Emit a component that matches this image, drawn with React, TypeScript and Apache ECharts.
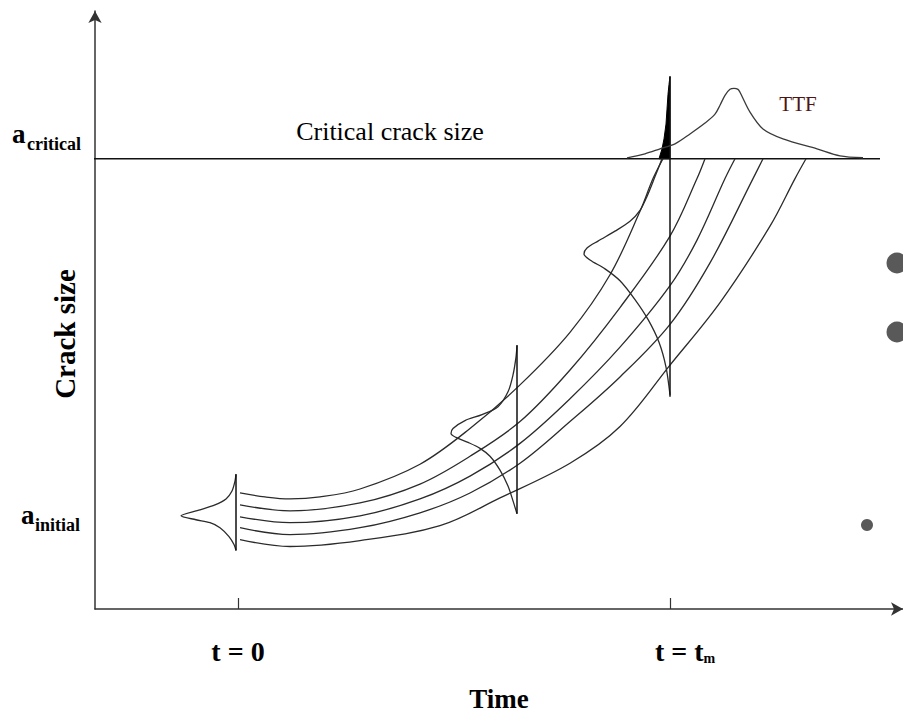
import React, { useEffect, useRef } from "react";
import * as echarts from "echarts";

// Time axis: t = 0 at 0, t = t_m at T_M (arbitrary time units)
// Crack-size axis: arbitrary size units
const T_ZERO = 0;
const T_M = 432;
const A_CRITICAL = 454;

const timeTicks = [T_ZERO, T_M];
const timeTickLabels = ["t = 0", "t = t_m"];

// five crack growth paths [time, crack size]
const crack1 = [[2,117],[27,113],[52,111],[82,113],[122,121],[182,146],[232,182],[282,226],[332,279],[372,337],[402,401],[415,434],[425,454]];
const crack2 = [[2,105],[52,99],[122,107],[182,126],[232,154],[282,189],[332,241],[382,304],[432,376],[459,434],[467,454]];
const crack3 = [[2,93],[52,87],[122,94],[182,111],[232,134],[282,167],[332,212],[382,264],[432,326],[459,372],[487,434],[497,454]];
const crack4 = [[2,82],[52,75],[122,82],[182,97],[232,117],[282,147],[332,189],[382,234],[432,287],[472,349],[515,434],[525,454]];
const crack5 = [[2,70],[52,63],[122,69],[202,84],[262,112],[332,147],[382,184],[432,246],[482,309],[532,386],[557,434],[568,454]];

// crack size distributions (drawn sideways) at three inspection times
const pdfInitial = [[-2,136],[-3,129],[-6,119],[-12,111],[-23,105],[-38,100],[-57,94],[-42,90],[-28,87],[-18,82],[-9,73],[-4,65],[-2,59]];
const pdfInitialBase = [[-2,136],[-2,59]];
const pdfMiddle = [[279,266],[278,254],[275,236],[270,219],[260,204],[244,196],[227,190],[215,182],[213,177],[218,173],[230,168],[242,162],[252,154],[262,140],[270,124],[275,109],[279,96]];
const pdfMiddleBase = [[279,266],[279,96]];
const pdfTm = [[424,454],[417,436],[409,416],[402,402],[392,391],[377,381],[360,371],[349,364],[346,358],[352,352],[367,343],[382,331],[397,312],[410,292],[421,269],[428,244],[432,216]];
const pdfTmBase = [[432,537],[432,214]];

// probability of failure at t_m (filled)
const failureArea = [[421,454],[424,464],[426,474],[428,489],[429,504],[430,519],[431,529],[432,537],[432,454]];

// time-to-failure distribution
const ttf = [[389,455],[407,459],[422,464],[437,469],[452,479],[467,490],[477,499],[482,508],[487,518],[492,524],[496,525],[500,524],[502,521],[512,501],[525,484],[545,474],[579,464],[602,457],[625,455]];

// critical crack size line
const criticalLine = [[-150, A_CRITICAL],[642, A_CRITICAL]];

const SERIF = "'Liberation Serif', 'Times New Roman', serif";
const INK = "#2b2b2b";

function lineSeries(data: number[][], smooth: number | boolean, width = 1.3, color = INK, clip = true) {
  return {
    type: "line",
    data,
    smooth,
    symbol: "none",
    clip,
    lineStyle: { color, width },
    silent: true,
  };
}

export default function App() {
  const ref = useRef<HTMLDivElement>(null);
  useEffect(() => {
    const chart = echarts.init(ref.current!, null, { renderer: "svg" });
    const option: any = {
      animation: false,
      backgroundColor: "#ffffff",
      grid: { left: 95, right: 0, top: 11, bottom: 103, containLabel: false },
      xAxis: {
        type: "value",
        min: -143,
        max: 665,
        name: "Time",
        nameLocation: "middle",
        nameGap: 76,
        nameTextStyle: { fontFamily: SERIF, fontWeight: "bold", fontSize: 27, lineHeight: 27, color: "#000" },
        axisLine: {
          show: true,
          onZero: false,
          symbol: ["none", "arrow"],
          symbolSize: [10, 12],
          lineStyle: { color: "#333", width: 1.5 },
        },
        axisTick: {
          show: true,
          inside: true,
          length: 11,
          customValues: timeTicks,
          lineStyle: { color: "#333", width: 1.2 },
        },
        axisLabel: {
          show: true,
          customValues: timeTicks,
          margin: 28,
          formatter: (v: number) => (v === T_ZERO ? "{a|" + timeTickLabels[0] + "}" : "{b|t = t}{m|m}"),
          rich: {
            a: { fontFamily: SERIF, fontWeight: "bold", fontSize: 28, lineHeight: 28, color: "#000" },
            b: { fontFamily: SERIF, fontWeight: "bold", fontSize: 28, lineHeight: 28, color: "#000", padding: [0, 0, 0, 30] },
            m: { fontFamily: SERIF, fontWeight: "bold", fontSize: 14, lineHeight: 10, verticalAlign: "bottom", color: "#000" },
          },
        },
        splitLine: { show: false },
      },
      yAxis: {
        type: "value",
        min: 0,
        max: 603,
        name: "Crack size",
        nameLocation: "middle",
        nameGap: 16,
        nameTextStyle: { fontFamily: SERIF, fontWeight: "bold", fontSize: 29, lineHeight: 29, color: "#000", padding: [0, 48, 0, 0] },
        axisLine: {
          show: true,
          onZero: false,
          symbol: ["none", "arrow"],
          symbolSize: [10, 12],
          lineStyle: { color: "#333", width: 1.5 },
        },
        axisTick: { show: false },
        axisLabel: { show: false },
        splitLine: { show: false },
      },
      series: [
        lineSeries(criticalLine, false, 1.5, "#111", false),
        lineSeries(crack1, 0.35),
        lineSeries(crack2, 0.35),
        lineSeries(crack3, 0.35),
        lineSeries(crack4, 0.35),
        lineSeries(crack5, 0.35),
        lineSeries(pdfInitial, 0.3),
        lineSeries(pdfInitialBase, false, 1.5, "#111"),
        lineSeries(pdfMiddle, 0.3),
        lineSeries(pdfMiddleBase, false, 1.5, "#111"),
        lineSeries(pdfTm, 0.3),
        lineSeries(pdfTmBase, false, 1.5, "#111"),
        lineSeries(ttf, 0.3, 1.3, "#3a3a3a"),
        {
          type: "custom",
          data: [failureArea[0]],
          clip: false,
          silent: true,
          renderItem: (_p: any, api: any) => ({
            type: "polygon",
            shape: { points: failureArea.map((p) => api.coord(p)), smooth: 0 },
            style: { fill: "#000", stroke: "#000", lineWidth: 1 },
          }),
        },
      ],
      graphic: [
        {
          type: "text",
          x: 390,
          y: 131,
          style: { text: "Critical crack size", fontFamily: SERIF, fontSize: 26, fill: "#000", align: "center", verticalAlign: "middle" },
        },
        {
          type: "text",
          x: 798,
          y: 104,
          style: { text: "TTF", fontFamily: SERIF, fontSize: 21, fill: "#4d1414", align: "center", verticalAlign: "middle" },
        },
        {
          type: "text",
          x: 12,
          y: 134,
          style: { text: "a", fontFamily: SERIF, fontWeight: "bold", fontSize: 27, fill: "#000", align: "left", verticalAlign: "middle" },
        },
        {
          type: "text",
          x: 27,
          y: 144,
          style: { text: "critical", fontFamily: SERIF, fontWeight: "bold", fontSize: 18, fill: "#000", align: "left", verticalAlign: "middle" },
        },
        {
          type: "text",
          x: 21,
          y: 515,
          style: { text: "a", fontFamily: SERIF, fontWeight: "bold", fontSize: 27, fill: "#000", align: "left", verticalAlign: "middle" },
        },
        {
          type: "text",
          x: 35,
          y: 525,
          style: { text: "initial", fontFamily: SERIF, fontWeight: "bold", fontSize: 18, fill: "#000", align: "left", verticalAlign: "middle" },
        },
        { type: "circle", shape: { cx: 897, cy: 263, r: 10.5 }, style: { fill: "#595959" } },
        { type: "circle", shape: { cx: 897, cy: 332, r: 10.5 }, style: { fill: "#595959" } },
        { type: "circle", shape: { cx: 867, cy: 525, r: 6 }, style: { fill: "#595959" } },
      ],
    };
    chart.setOption(option);
    return () => chart.dispose();
  }, []);
  return (
    <div
      ref={ref}
      style={{ position: "fixed", left: 0, top: 0, width: 903, height: 717, background: "#fff" }}
    />
  );
}
